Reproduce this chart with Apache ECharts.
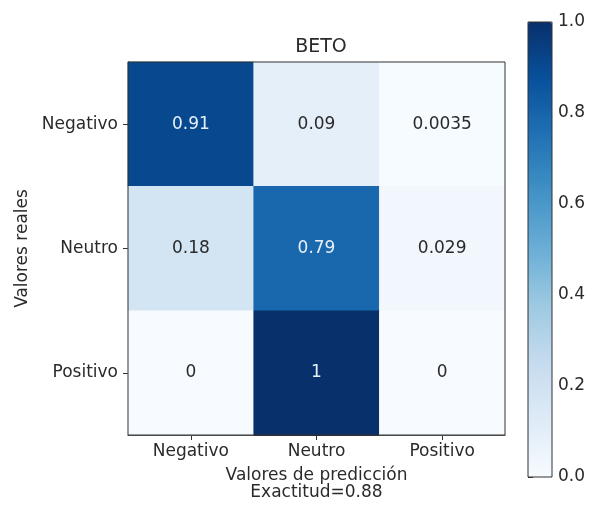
<!DOCTYPE html>
<html>
<head>
<meta charset="utf-8">
<script src="https://cdn.jsdelivr.net/npm/echarts@6/dist/echarts.min.js"></script>
<style>
  html, body { margin: 0; padding: 0; background: #ffffff; }
  #chart { width: 590px; height: 506px; }
</style>
</head>
<body>
<div id="chart"></div>
<script>
// Confusion matrix of the BETO classifier (rows: true class, columns: predicted class)
const classLabels = ['Negativo', 'Neutro', 'Positivo'];
const rowNegativo = [0.91, 0.09, 0.0035];
const rowNeutro = [0.18, 0.79, 0.029];
const rowPositivo = [0, 1, 0];
const accuracy = 0.88;
const chartTitle = 'BETO';
const xAxisTitle = 'Valores de predicción';
const yAxisTitle = 'Valores reales';

// matplotlib "Blues" colormap stops
const blues = ['#f7fbff', '#deebf7', '#c6dbef', '#9ecae1', '#6baed6',
               '#4292c6', '#2171b5', '#08519c', '#08306b'];

const rows = [rowNegativo, rowNeutro, rowPositivo];
const cells = [];
rows.forEach((row, r) => {
  row.forEach((v, c) => cells.push([c, r, v]));
});

const textDark = '#2a2a2a';
const textLight = '#e6f0fa';
const fontFamily = 'DejaVu Sans';
const fontSize = 17;

const chart = echarts.init(document.getElementById('chart'), null, { renderer: 'canvas' });
chart.setOption({
  backgroundColor: '#ffffff',
  animation: false,
  textStyle: { fontFamily: fontFamily },
  title: {
    text: chartTitle,
    left: 316,
    top: 33,
    textAlign: 'center',
    textStyle: { fontFamily: fontFamily, fontSize: 19, fontWeight: 'normal', color: textDark }
  },
  grid: [
    { left: 128, top: 62, width: 377, height: 373, show: true,
      borderColor: '#333', borderWidth: 1, backgroundColor: 'transparent', z: 10 },
    { left: 528, top: 22, width: 24, height: 455, show: true,
      borderColor: '#333', borderWidth: 1, backgroundColor: 'transparent', z: 10 }
  ],
  xAxis: [
    {
      type: 'category', gridIndex: 0, data: classLabels, position: 'bottom',
      name: xAxisTitle + '\nExactitud=' + accuracy,
      nameLocation: 'middle', nameGap: 32,
      nameTextStyle: { fontFamily: fontFamily, fontSize: fontSize, color: textDark, lineHeight: 17 },
      axisLine: { show: true, lineStyle: { color: '#333', width: 1 } },
      axisTick: { show: true, alignWithLabel: true, length: 5, lineStyle: { color: '#333' } },
      axisLabel: { fontFamily: fontFamily, fontSize: fontSize, color: textDark, margin: 8 },
      splitLine: { show: false }
    },
    { type: 'value', gridIndex: 1, min: 0, max: 1, show: false }
  ],
  yAxis: [
    {
      type: 'category', gridIndex: 0, data: classLabels, inverse: true,
      name: yAxisTitle, nameLocation: 'middle', nameGap: 95,
      nameTextStyle: { fontFamily: fontFamily, fontSize: fontSize, color: textDark },
      axisLine: { show: true, lineStyle: { color: '#333', width: 1 } },
      axisTick: { show: true, alignWithLabel: true, length: 5, lineStyle: { color: '#333' } },
      axisLabel: { fontFamily: fontFamily, fontSize: fontSize, color: textDark, margin: 10 },
      splitLine: { show: false }
    },
    {
      type: 'value', gridIndex: 1, position: 'right', min: 0, max: 1, interval: 0.2,
      axisLine: { show: false },
      axisTick: { show: true, inside: false, length: 5, lineStyle: { color: '#333' } },
      axisLabel: { fontFamily: fontFamily, fontSize: fontSize, color: textDark, margin: 6,
                   formatter: v => v.toFixed(1) },
      splitLine: { show: false }
    }
  ],
  visualMap: {
    type: 'continuous',
    min: 0, max: 1,
    calculable: false,
    seriesIndex: 0,
    orient: 'vertical',
    left: 528, top: 22,
    itemWidth: 24, itemHeight: 455,
    padding: 0,
    text: null,
    inRange: { color: blues }
  },
  series: [{
    type: 'heatmap',
    xAxisIndex: 0, yAxisIndex: 0,
    // light annotation text on dark cells, dark text elsewhere
    data: cells.map(d => ({
      value: d,
      label: { color: d[2] > 0.5 ? textLight : textDark }
    })),
    label: {
      show: true,
      fontFamily: fontFamily,
      fontSize: fontSize,
      formatter: p => String(p.value[2])
    },
    emphasis: { disabled: true }
  }]
});
</script>
</body>
</html>
